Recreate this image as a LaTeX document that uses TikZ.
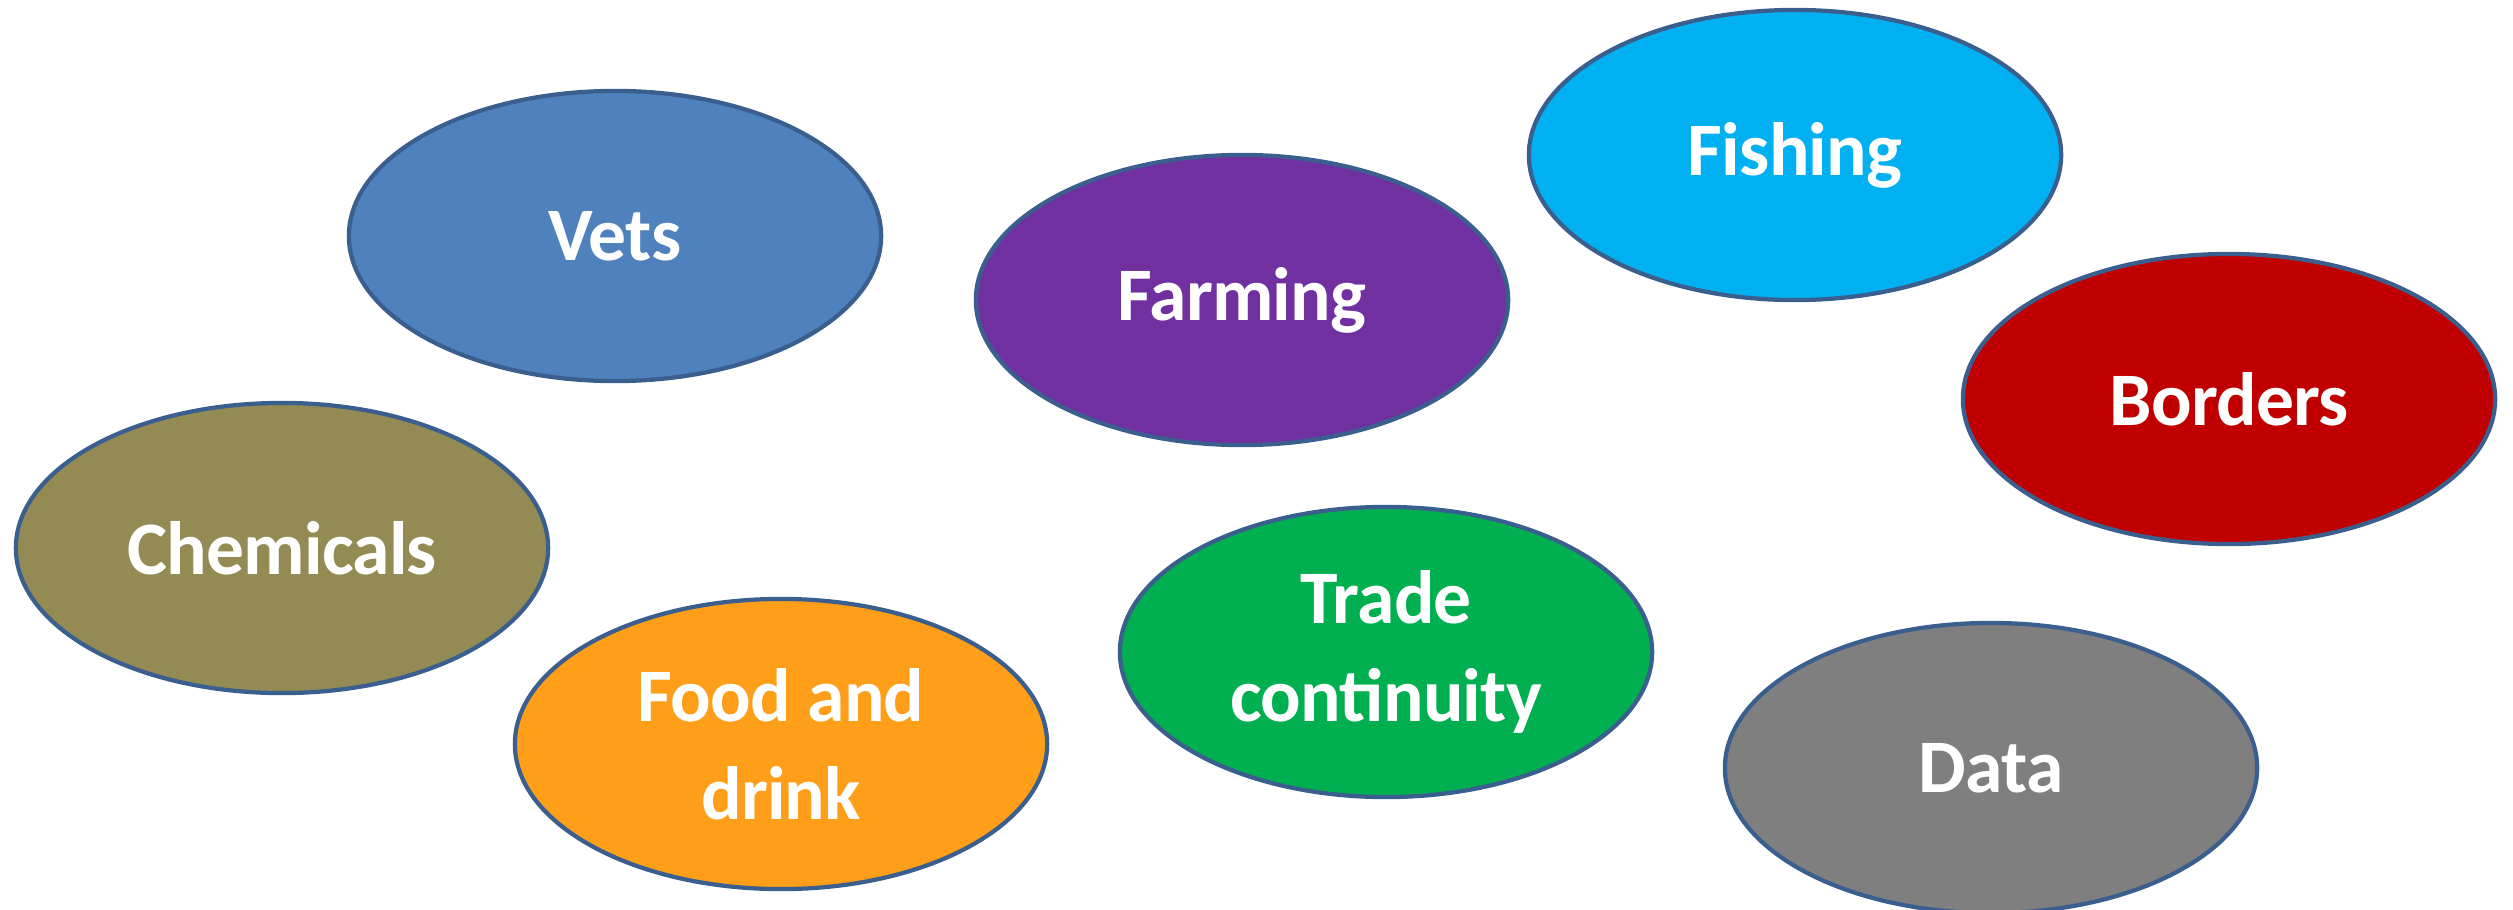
\documentclass[tikz,border=0pt]{standalone}
\usepackage{fontspec}
\setmainfont{Carlito}[LetterSpace=-1]
\usepackage{tikz}
\usetikzlibrary{shapes.geometric,positioning}

\definecolor{rim}{HTML}{3A5F8E}
\definecolor{vetsblue}{HTML}{4F81BD}
\definecolor{farmpurple}{HTML}{7030A0}
\definecolor{fishcyan}{HTML}{00B0F0}
\definecolor{borderred}{HTML}{C00000}
\definecolor{chemolive}{HTML}{948A54}
\definecolor{tradegreen}{HTML}{00B050}
\definecolor{foodorange}{HTML}{FF9E18}
\definecolor{datagrey}{HTML}{7F7F7F}

\begin{document}
\begin{tikzpicture}[x=0.01cm, y=-0.01cm,
					topic/.style={
						ellipse, draw=rim, line width=1.2pt,
						minimum width=5.32cm, minimum height=2.9cm, inner sep=0pt,
						text=white, align=center,
						font=\fontsize{21.5}{28}\selectfont\bfseries
					}
				]
				\clip (0,0) rectangle (2513,909);
				\useasboundingbox (0,0) rectangle (2513,909);
				
				\node (vets)     [topic, fill=vetsblue]   at (615,236)  {Vets};
				\node (farming)  [topic, fill=farmpurple] at (1242,300) {Farming};
				\node (fishing)  [topic, fill=fishcyan]   at (1795,155) {Fishing};
				\node (borders)  [topic, fill=borderred]  at (2229,399) {Borders};
				\node (chem)     [topic, fill=chemolive]  at (282,548)  {Chemicals};
				\node (trade)    [topic, fill=tradegreen] at (1386,652) {Trade\\continuity};
				\node (food)     [topic, fill=foodorange] at (781,744)  {Food and\\drink};
				\node (data)     [topic, fill=datagrey]   at (1991,768) {Data};
			\end{tikzpicture}
\end{document}
